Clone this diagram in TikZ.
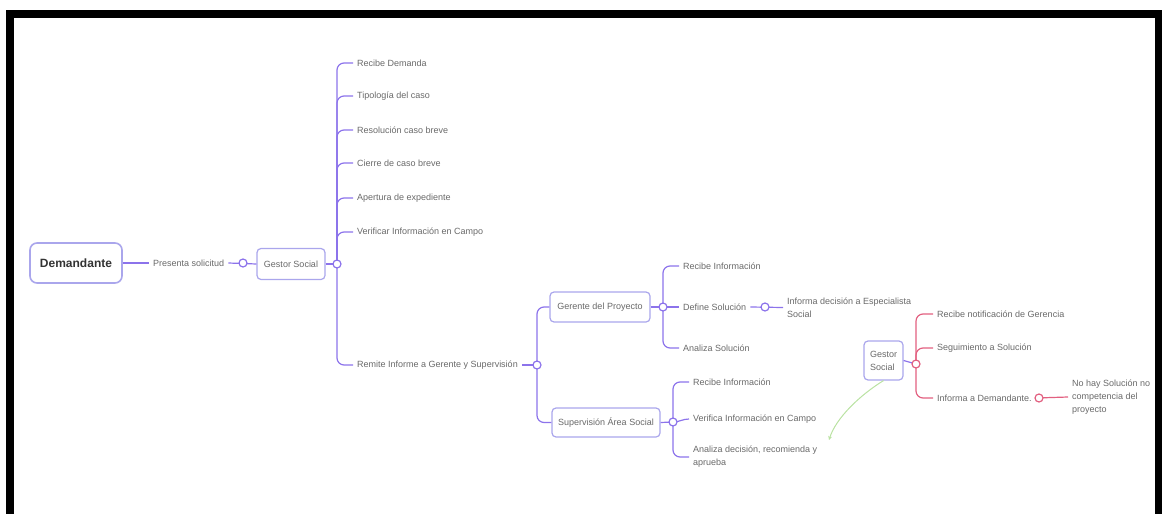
\documentclass[tikz,border=0pt]{standalone}
\usepackage{fontspec}
\setmainfont{Liberation Sans}
\usetikzlibrary{arrows.meta}
\definecolor{linec}{RGB}{140,115,235}
\definecolor{boxc}{RGB}{170,166,236}
\definecolor{pinkc}{RGB}{226,96,128}
\definecolor{greenc}{RGB}{186,226,162}
\definecolor{textc}{RGB}{105,105,105}
\begin{document}
\begin{tikzpicture}[x=1pt,y=-1pt,
  lbl/.style={anchor=west, inner sep=0pt, text=textc, font=\fontsize{9}{13}\selectfont, align=left},
  box/.style={draw=boxc, line width=1.2pt, rounded corners=4pt, fill=white, text=textc, font=\fontsize{9}{13}\selectfont, inner sep=0pt, align=left},
  conn/.style={draw=linec, line width=1.2pt},
  br/.style={draw=linec, line width=1.2pt, rounded corners=7pt},
  brp/.style={draw=pinkc, line width=1.2pt, rounded corners=7pt},
  dot/.style={circle, draw=linec, fill=white, line width=1.2pt, minimum size=8pt, inner sep=0pt},
  dotp/.style={dot, draw=pinkc},
]
\useasboundingbox (0,0) rectangle (1162,514);
% frame
\fill[black] (6,10) rectangle (14,514);
\fill[black] (6,10) rectangle (1162,18);
\fill[black] (1155,10) rectangle (1162,514);

% nodes
\node[box, line width=1.6pt, rounded corners=7pt, minimum width=92pt, minimum height=40pt,
      font=\bfseries\fontsize{12}{14}\selectfont, text=black!80] (dem) at (76,263) {Demandante};
\node[lbl] (pres) at (153,263) {Presenta solicitud};
\node[box, minimum width=68pt, minimum height=31pt] (gs1) at (291,264) {Gestor Social};

\node[lbl] (r1) at (357,63) {Recibe Demanda};
\node[lbl] (r2) at (357,96) {Tipología del caso};
\node[lbl] (r3) at (357,130) {Resolución caso breve};
\node[lbl] (r4) at (357,163) {Cierre de caso breve};
\node[lbl] (r5) at (357,198) {Apertura de expediente};
\node[lbl] (r6) at (357,232) {Verificar Información en Campo};
\node[lbl] (rem) at (357,365) {Remite Informe a Gerente y Supervisión};

\node[box, minimum width=100pt, minimum height=30pt] (ger) at (600,307) {Gerente del Proyecto};
\node[box, minimum width=108pt, minimum height=29pt] (sup) at (606,422.5) {Supervisión Área Social};

\node[lbl] (g1) at (683,266) {Recibe Información};
\node[lbl] (g2) at (683,307) {Define Solución};
\node[lbl] (g3) at (683,348) {Analiza Solución};
\node[lbl] (inf) at (787,307.5) {Informa decisión a Especialista\\Social};

\node[lbl] (s1) at (693,382) {Recibe Información};
\node[lbl] (s2) at (693,419) {Verifica Información en Campo};
\node[lbl] (s3) at (693,457) {Analiza decisión, recomienda y\\aprueba};

\node[box, minimum width=39pt, minimum height=39pt] (gs2) at (883.5,360.5) {Gestor\\Social};

\node[lbl] (p1) at (937,314) {Recibe notificación de Gerencia};
\node[lbl] (p2) at (937,348) {Seguimiento a Solución};
\node[lbl] (p3) at (937,398) {Informa a Demandante.};
\node[lbl] (nh) at (1072,397) {No hay Solución no\\competencia del\\proyecto};

\coordinate (c0) at (243,263);
\coordinate (c1) at (337,264);
\coordinate (c2) at (537,365);
\coordinate (c3) at (663,307);
\coordinate (c4) at (765,307);
\coordinate (c5) at (673,422);
\coordinate (c6) at (916,364);
\coordinate (c7) at (1039,398);
\coordinate (rel) at (829,440);

% connectors
\draw[conn] (dem.east) -- ([xshift=-4pt]pres.west);
\draw[conn] ([xshift=4pt]pres.east) -- (gs1.west);
\draw[conn] (gs1.east) -- (c1);
\foreach \n in {r1,r2,r3,r4,r5,r6,rem}
  \draw[br] (c1) |- ([xshift=-4pt]\n.west);
\draw[conn] ([xshift=4pt]rem.east) -- (c2);
\draw[br] (c2) |- (ger.west);
\draw[br] (c2) |- (sup.west);
\draw[conn] (ger.east) -- (c3);
\draw[br] (c3) |- ([xshift=-4pt]g1.west);
\draw[conn] (c3) -- ([xshift=-4pt]g2.west);
\draw[br] (c3) |- ([xshift=-4pt]g3.west);
\draw[conn] ([xshift=4pt]g2.east) -- ([xshift=-4pt]inf.west);
\draw[conn] (sup.east) -- (c5);
\draw[br] (c5) |- ([xshift=-4pt]s1.west);
\draw[conn] (c5) to[out=0,in=180] ([xshift=-4pt]s2.west);
\draw[br] (c5) |- ([xshift=-4pt]s3.west);
\draw[conn] (gs2.east) -- (c6);
\draw[brp] (c6) |- ([xshift=-4pt]p1.west);
\draw[brp] (c6) |- ([xshift=-4pt]p2.west);
\draw[brp] (c6) |- ([xshift=-4pt]p3.west);
\draw[brp] ([xshift=4pt]p3.east) -- ([xshift=-4pt]nh.west);
\draw[greenc, line width=1pt, -{Stealth[length=4pt,width=4pt]}]
  (gs2.south) .. controls (860,395) and (836,418) .. (rel);

% expander circles
\foreach \c in {c0,c1,c2,c3,c4,c5}
  \node[dot] at (\c) {};
\foreach \c in {c6,c7}
  \node[dotp] at (\c) {};
\end{tikzpicture}
\end{document}
